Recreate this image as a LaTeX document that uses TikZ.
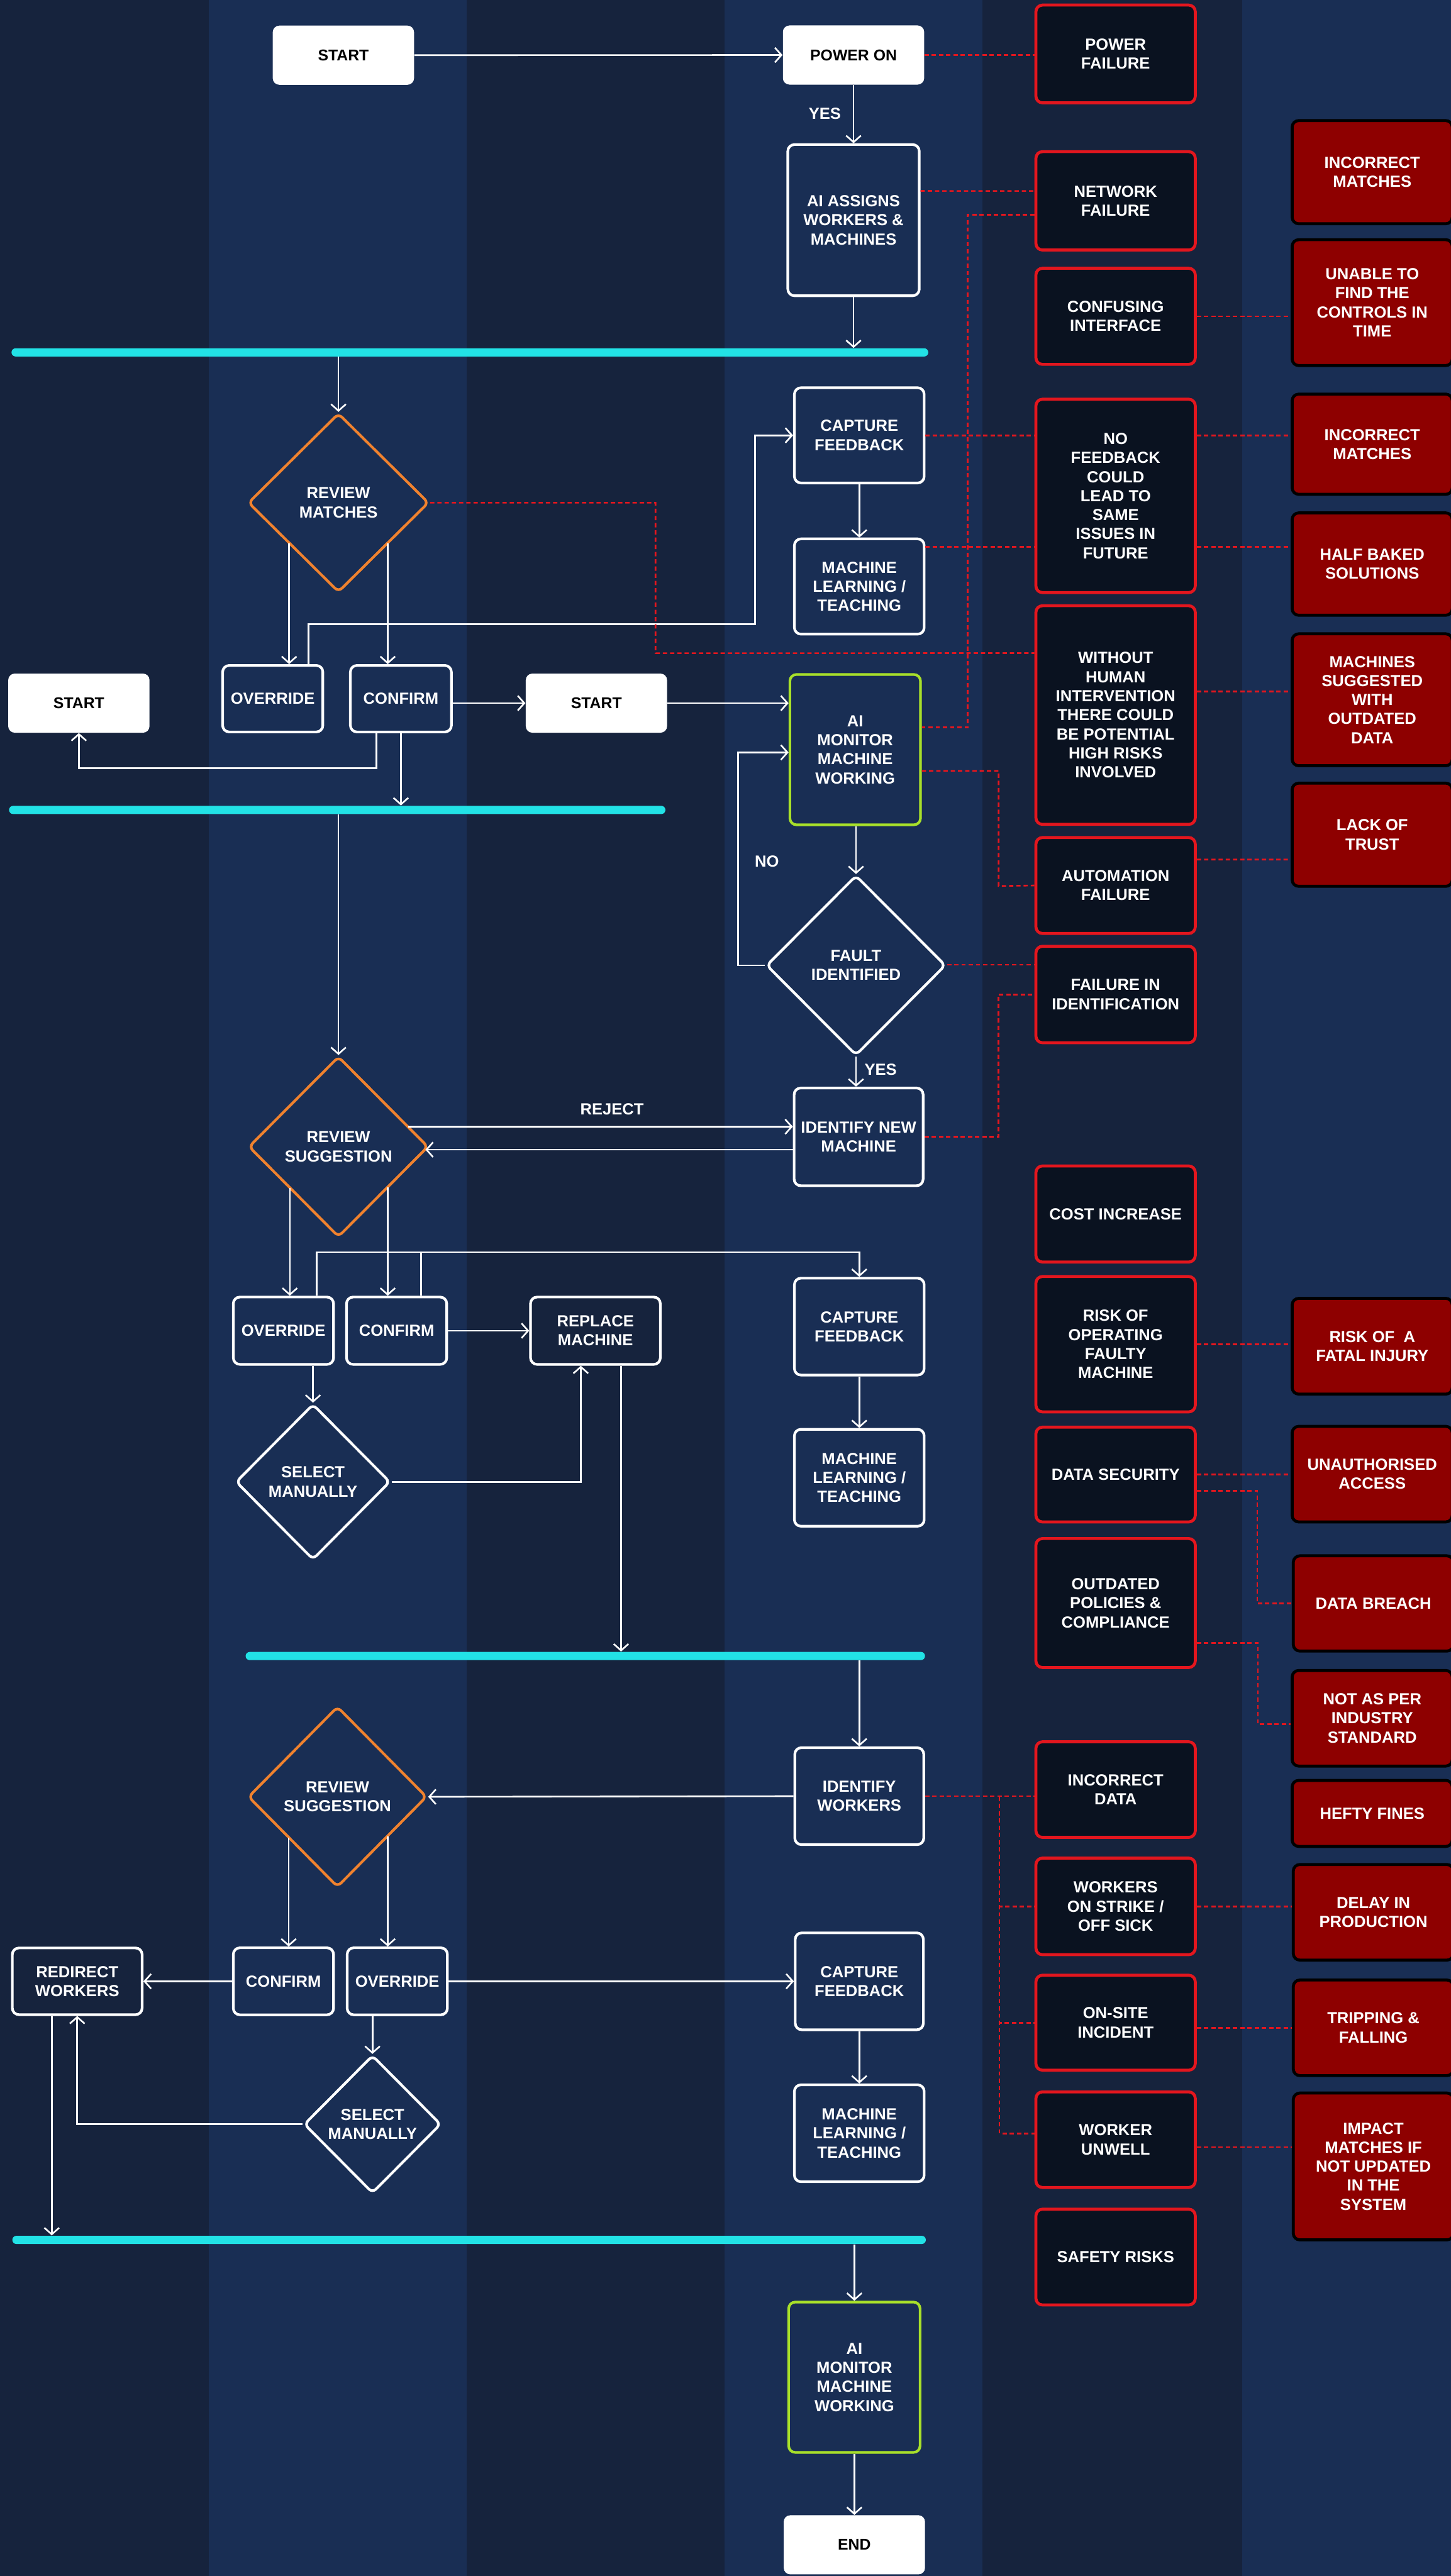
\documentclass[tikz,border=0pt]{standalone}
\usepackage{fontspec}
\setmainfont{Liberation Sans}
\usetikzlibrary{arrows.meta,shapes.geometric}
\definecolor{bgdark}{HTML}{16233D}
\definecolor{bglight}{HTML}{192E54}
\definecolor{riskred}{HTML}{E3161E}
\definecolor{riskfill}{HTML}{0A1220}
\definecolor{impfill}{HTML}{8E0000}
\definecolor{barcyan}{HTML}{22E2E6}
\definecolor{decorange}{HTML}{F0822E}
\definecolor{monlime}{HTML}{A8E02A}
\tikzset{
  txt/.style={font=\bfseries\fontsize{9.8}{11.6}\selectfont, align=center, inner sep=0pt},
  whitebox/.style={txt, font=\bfseries\fontsize{9.5}{11.6}\selectfont, fill=white, text=black, rounded corners=4pt, minimum width=86pt, minimum height=36pt},
  flowbox/.style={txt, draw=white, line width=1.6pt, text=white, rounded corners=4pt},
  greenbox/.style={flowbox, draw=monlime},
  decision/.style={txt, diamond, draw=white, line width=1.6pt, text=white, rounded corners=3pt},
  orangedec/.style={decision, draw=decorange},
  riskbox/.style={txt, draw=riskred, fill=riskfill, line width=1.8pt, text=white, rounded corners=4pt, minimum width=97pt},
  impactbox/.style={txt, draw=black, fill=impfill, line width=1.8pt, text=white, rounded corners=4pt, minimum width=97.5pt},
  cyanbar/.style={fill=barcyan, rounded corners=2.5pt, minimum height=5pt, inner sep=0pt},
  arr/.style={draw=white, line width=1pt, -{Straight Barb[length=4pt,width=9pt]}},
  plainline/.style={draw=white, line width=1pt},
  riskline/.style={draw=riskred, line width=1pt, dash pattern=on 2.6pt off 1.8pt},
  lbl/.style={txt, text=white},
}
\begin{document}
\begin{tikzpicture}[x=1pt,y=-1pt]
\useasboundingbox (0,0) rectangle (883,1568);
% background stripes
\fill[bgdark] (0,0) rectangle (883,1568);
\fill[bglight] (127,0) rectangle (284,1568);
\fill[bglight] (441,0) rectangle (598,1568);
\fill[bglight] (756,0) rectangle (883,1568);

% cyan bars
\node[cyanbar, minimum width=558pt] (bar1) at (286,214.5) {};
\node[cyanbar, minimum width=399.5pt] (bar2) at (205.25,493) {};
\node[cyanbar, minimum width=413.5pt] (bar3) at (356.25,1008) {};
\node[cyanbar, minimum width=556pt] (bar4) at (285.5,1363.4) {};

% white terminal boxes
\node[whitebox] (start1) at (209,33.6) {START};
\node[whitebox] (poweron) at (519.5,33.5) {POWER ON};
\node[whitebox] (start2) at (48,428) {START};
\node[whitebox] (start3) at (363,428) {START};
\node[whitebox] (endn) at (520,1549) {END};

% flow boxes
\node[flowbox, minimum width=80pt, minimum height=92pt] (assign) at (519.5,134) {AI ASSIGNS\\WORKERS \&\\MACHINES};
\node[flowbox, minimum width=79pt, minimum height=58pt] (cf1) at (523,265) {CAPTURE\\FEEDBACK};
\node[flowbox, minimum width=79pt, minimum height=58pt] (ml1) at (523,357) {MACHINE\\LEARNING /\\TEACHING};
\node[flowbox, minimum width=61pt, minimum height=40.5pt] (ov1) at (166,425.3) {OVERRIDE};
\node[flowbox, minimum width=61.5pt, minimum height=40.5pt] (conf1) at (244,425.3) {CONFIRM};
\node[greenbox, minimum width=79.5pt, minimum height=91.5pt] (mon1) at (520.5,456.3) {AI\\MONITOR\\MACHINE\\WORKING};
\node[flowbox, minimum width=78.5pt, minimum height=59.5pt] (inm) at (522.6,692) {IDENTIFY NEW\\MACHINE};
\node[flowbox, minimum width=61pt, minimum height=41pt] (ov2) at (172.5,810) {OVERRIDE};
\node[flowbox, minimum width=61pt, minimum height=41pt] (conf2) at (241.4,810) {CONFIRM};
\node[flowbox, minimum width=79pt, minimum height=41pt] (repl) at (362.4,810) {REPLACE\\MACHINE};
\node[flowbox, minimum width=79pt, minimum height=59pt] (cf2) at (523,807.5) {CAPTURE\\FEEDBACK};
\node[flowbox, minimum width=79pt, minimum height=59pt] (ml2) at (523,899.5) {MACHINE\\LEARNING /\\TEACHING};
\node[flowbox, minimum width=78.5pt, minimum height=59pt] (iw) at (523,1093.3) {IDENTIFY\\WORKERS};
\node[flowbox, minimum width=79pt, minimum height=40.6pt] (redir) at (47,1206) {REDIRECT\\WORKERS};
\node[flowbox, minimum width=61pt, minimum height=40.8pt] (conf3) at (172.5,1206) {CONFIRM};
\node[flowbox, minimum width=61pt, minimum height=40.8pt] (ov3) at (241.8,1206) {OVERRIDE};
\node[flowbox, minimum width=78pt, minimum height=59pt] (cf3) at (523,1206) {CAPTURE\\FEEDBACK};
\node[flowbox, minimum width=79pt, minimum height=59pt] (ml3) at (523,1298.5) {MACHINE\\LEARNING /\\TEACHING};
\node[greenbox, minimum width=80pt, minimum height=91.5pt] (mon2) at (520,1447) {AI\\MONITOR\\MACHINE\\WORKING};

% decisions
\node[orangedec, minimum width=110pt, minimum height=109pt] (rm) at (206,306) {REVIEW\\MATCHES};
\node[decision, minimum width=109.2pt, minimum height=109.6pt] (fault) at (521,587.6) {FAULT\\IDENTIFIED};
\node[orangedec, minimum width=109.4pt, minimum height=110pt] (rs1) at (206,698) {REVIEW\\SUGGESTION};
\node[decision, minimum width=94pt, minimum height=94.8pt] (sm1) at (190.5,902) {SELECT\\MANUALLY};
\node[orangedec, minimum width=108.8pt, minimum height=110pt] (rs2) at (205.4,1093.7) {REVIEW\\SUGGESTION};
\node[decision, minimum width=83.4pt, minimum height=84pt] (sm2) at (226.7,1293) {SELECT\\MANUALLY};

% risk boxes (first column)
\node[riskbox, minimum height=59.5pt] (pf) at (679,32.85) {POWER\\FAILURE};
\node[riskbox, minimum height=59.9pt] (nf) at (679,122.25) {NETWORK\\FAILURE};
\node[riskbox, minimum height=58.5pt] (ci) at (679,192.55) {CONFUSING\\INTERFACE};
\node[riskbox, minimum height=117.7pt] (nofb) at (679,301.85) {NO\\FEEDBACK\\COULD\\LEAD TO\\SAME\\ISSUES IN\\FUTURE};
\node[riskbox, minimum height=133.1pt] (without) at (679,435.25) {WITHOUT\\HUMAN\\INTERVENTION\\THERE COULD\\BE POTENTIAL\\HIGH RISKS\\INVOLVED};
\node[riskbox, minimum height=58.4pt] (auto) at (679,539) {AUTOMATION\\FAILURE};
\node[riskbox, minimum height=58.7pt] (fid) at (679,605.35) {FAILURE IN\\IDENTIFICATION};
\node[riskbox, minimum height=58.5pt] (cost) at (679,738.95) {COST INCREASE};
\node[riskbox, minimum height=82.4pt] (riskop) at (679,818.2) {RISK OF\\OPERATING\\FAULTY\\MACHINE};
\node[riskbox, minimum height=57.7pt] (ds) at (679,897.55) {DATA SECURITY};
\node[riskbox, minimum height=78.5pt] (outd) at (679,975.75) {OUTDATED\\POLICIES \&\\COMPLIANCE};
\node[riskbox, minimum height=58.2pt] (incd) at (679,1089.3) {INCORRECT\\DATA};
\node[riskbox, minimum height=58.8pt] (strike) at (679,1160.4) {WORKERS\\ON STRIKE /\\OFF SICK};
\node[riskbox, minimum height=57.8pt] (onsite) at (679,1231.2) {ON-SITE\\INCIDENT};
\node[riskbox, minimum height=58.2pt] (unwell) at (679,1302.4) {WORKER\\UNWELL};
\node[riskbox, minimum height=58.3pt] (safety) at (679,1373.85) {SAFETY RISKS};

% impact boxes (second column)
\node[impactbox, minimum height=62.8pt] (inc1) at (835.2,104.8) {INCORRECT\\MATCHES};
\node[impactbox, minimum height=76.6pt] (unable) at (835.2,184.2) {UNABLE TO\\FIND THE\\CONTROLS IN\\TIME};
\node[impactbox, minimum height=61pt] (inc2) at (835.2,270.4) {INCORRECT\\MATCHES};
\node[impactbox, minimum height=62.3pt] (half) at (835.2,343.35) {HALF BAKED\\SOLUTIONS};
\node[impactbox, minimum height=80.3pt] (mach) at (835.2,425.95) {MACHINES\\SUGGESTED\\WITH\\OUTDATED\\DATA};
\node[impactbox, minimum height=62.8pt] (lack) at (835.2,508.1) {LACK OF\\TRUST};
\node[impactbox, minimum height=58.3pt] (fatal) at (835.2,819.45) {RISK OF\ \ A\\FATAL INJURY};
\node[impactbox, minimum height=58.2pt] (unauth) at (835.2,897.3) {UNAUTHORISED\\ACCESS};
\node[impactbox, minimum height=58pt] (breach) at (835.9,976) {DATA BREACH};
\node[impactbox, minimum height=58.2pt] (notas) at (835.2,1045.9) {NOT AS PER\\INDUSTRY\\STANDARD};
\node[impactbox, minimum height=40.2pt] (hefty) at (835.2,1103.8) {HEFTY FINES};
\node[impactbox, minimum height=58.2pt] (delay) at (835.9,1164) {DELAY IN\\PRODUCTION};
\node[impactbox, minimum height=58.2pt] (trip) at (835.9,1234.3) {TRIPPING \&\\FALLING};
\node[impactbox, minimum height=89.4pt] (impact) at (835.9,1318.7) {IMPACT\\MATCHES IF\\NOT UPDATED\\IN THE\\SYSTEM};

% labels
\node[lbl] (yes1) at (502,69) {YES};
\node[lbl] (no1) at (466.8,524.5) {NO};
\node[lbl] (yes2) at (536,651) {YES};
\node[lbl] (reject) at (372.5,675) {REJECT};

% helper coordinates
\coordinate (r3) at ([xshift=15.6pt]repl.south);
\coordinate (r4) at ([xshift=-15.5pt]redir.south);
\coordinate (q1) at ([yshift=24.2pt]ml1.east);
\coordinate (br) at (608.3,1093.6);

% white connectors
\draw[arr] (start1.east) -- (poweron.west);
\draw[arr] (poweron.south) -- (poweron.south |- assign.north);
\draw[arr] (assign.south) -- (assign.south |- bar1.north);
\draw[arr] (bar1.south -| rm.north) -- (rm.north);
\draw[arr] ([xshift=-30pt,yshift=-24.8pt]rm.center) -- ([xshift=10pt]ov1.north);
\draw[arr] ([xshift=30pt,yshift=-24.8pt]rm.center) -- ([xshift=-8pt]conf1.north);
\draw[arr] ([xshift=21.7pt]ov1.north) |- (459.6,380) |- (cf1.west);
\draw[arr] (cf1.south) -- (ml1.north);
\draw[arr] (conf1.east |- start3.west) -- (start3.west);
\draw[arr] (start3.east) -- (start3.east -| mon1.west);
\draw[arr] ([xshift=-15pt]conf1.south) -- ++(0,21.2) -| (start2.south);
\draw[arr] (conf1.south) -- (conf1.south |- bar2.north);
\draw[arr] (bar2.south -| rs1.north) -- (rs1.north);
\draw[arr] (mon1.south -| fault.north) -- (fault.north);
\draw[arr] (fault.west) -- ++(-16.3,0) |- ([yshift=-1.7pt]mon1.west);
\draw[arr] (fault.south) -- (fault.south |- inm.north);
\draw[arr] ([xshift=42.6pt,yshift=12.2pt]rs1.center) -- ([yshift=6.2pt]inm.west);
\draw[arr] ([yshift=-7.8pt]inm.west) -- ([xshift=52.9pt,yshift=-1.8pt]rs1.center);
\draw[arr] ([xshift=-29.6pt,yshift=-25.2pt]rs1.center) -- ([xshift=3.9pt]ov2.north);
\draw[arr] ([xshift=30pt,yshift=-24.8pt]rs1.center) -- ([xshift=-5.4pt]conf2.north);
\draw[arr] ([xshift=20.2pt]ov2.north) -- ++(0,-26.5) -| (cf2.north);
\draw[plainline] ([xshift=15pt]conf2.north) -- ++(0,-26.5);
\draw[arr] (conf2.east) -- (repl.west);
\draw[arr] (sm1.north |- ov2.south) -- (sm1.north);
\draw[arr] (sm1.east) -| ([xshift=-8.9pt]repl.south);
\draw[arr] (r3) -- (r3 |- bar3.north);
\draw[arr] (cf2.south) -- (ml2.north);
\draw[arr] (bar3.south -| iw.north) -- (iw.north);
\draw[arr] (iw.west) -- (rs2.east);
\draw[arr] ([xshift=-29.7pt,yshift=-25pt]rs2.center) -- ([xshift=3.2pt]conf3.north);
\draw[arr] ([xshift=30.6pt,yshift=-24.1pt]rs2.center) -- ([xshift=-5.8pt]ov3.north);
\draw[arr] (conf3.west) -- (redir.east);
\draw[arr] (ov3.east) -- (cf3.west);
\draw[arr] (sm2.north |- ov3.south) -- (sm2.north);
\draw[arr] (sm2.west) -| (redir.south);
\draw[arr] (r4) -- (r4 |- bar4.north);
\draw[arr] (cf3.south) -- (ml3.north);
\draw[arr] (bar4.south -| mon2.north) -- (mon2.north);
\draw[arr] (mon2.south) -- (mon2.south |- endn.north);

% red dotted risk connectors
\draw[riskline] (poweron.east) -- (poweron.east -| pf.west);
\draw[riskline] ([yshift=17.8pt]assign.east) -- ([yshift=6pt]nf.west);
\draw[riskline] ([yshift=-8.5pt]nf.west) -| (588.9,442.8) -- ([yshift=13.5pt]mon1.east);
\draw[riskline] (ci.east) -- (ci.east -| unable.west);
\draw[riskline] (cf1.east) -- (cf1.east -| nofb.west);
\draw[riskline] (cf1.east -| nofb.east) -- (cf1.east -| inc2.west);
\draw[riskline] (q1) -- (q1 -| nofb.west);
\draw[riskline] (q1 -| nofb.east) -- (q1 -| half.west);
\draw[riskline] (rm.east) -| (399,397.6) -- ([yshift=37.7pt]without.west);
\draw[riskline] ([yshift=14.3pt]without.east) -- ([yshift=5pt]mach.west);
\draw[riskline] ([yshift=-12.9pt]mon1.east) -| (607.8,539.3) -- (auto.west);
\draw[riskline] ([yshift=15.8pt]auto.east) -- ([yshift=-15.1pt]lack.west);
\draw[riskline] ([yshift=0.4pt]fault.east) -- ([yshift=0.4pt]fault.east -| fid.west);
\draw[riskline] (inm.east) -| ([xshift=-22pt]fid.west) -- (fid.west);
\draw[riskline] (riskop.east) -- (riskop.east -| fatal.west);
\draw[riskline] (ds.east) -- (ds.east -| unauth.west);
\draw[riskline] ([yshift=-10pt]ds.east) -| ([xshift=-21pt]breach.west) -- (breach.west);
\draw[riskline] ([yshift=-24.25pt]outd.east) -| ([xshift=-20pt,yshift=-3.6pt]notas.west) -- ([yshift=-3.6pt]notas.west);
\draw[riskline] (iw.east) -- (iw.east -| incd.west);
\draw[riskline] (br) |- (strike.west);
\draw[riskline] (br) |- (onsite.west);
\draw[riskline] (br) |- ([yshift=3.8pt]unwell.west);
\draw[riskline] (strike.east) -- (strike.east -| delay.west);
\draw[riskline] (trip.west -| onsite.east) -- (trip.west);
\draw[riskline] ([yshift=-4.5pt]unwell.east) -- ([yshift=11.8pt]impact.west);
\end{tikzpicture}
\end{document}
